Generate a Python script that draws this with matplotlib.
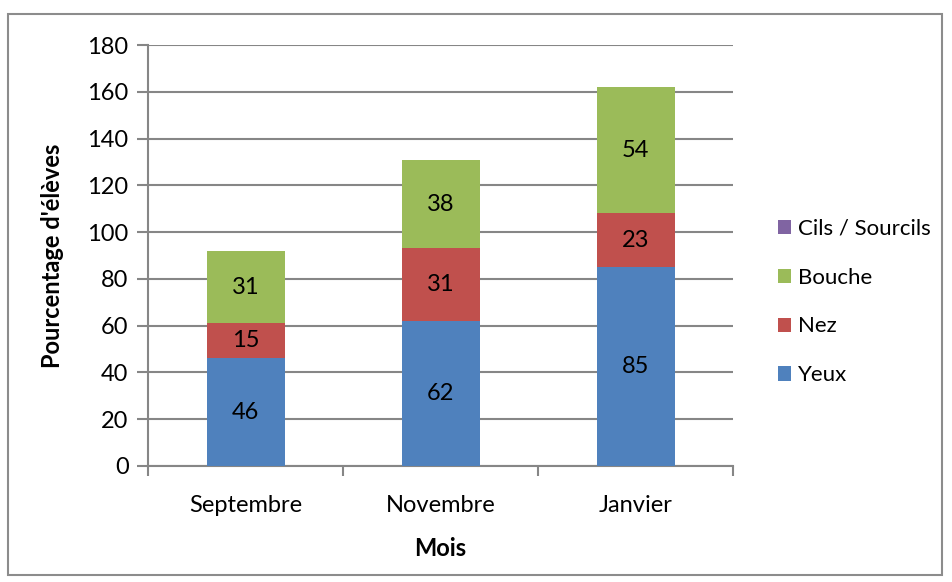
import numpy as np
import matplotlib.pyplot as plt
from matplotlib.patches import Rectangle

plt.rcParams['font.family'] = ['Lato', 'DejaVu Sans']

mois = ["Septembre", "Novembre", "Janvier"]
yeux = [46, 62, 85]
nez = [15, 31, 23]
bouche = [31, 38, 54]
cils = [0, 0, 0]

c_yeux = "#4F81BD"
c_nez = "#C0504D"
c_bouche = "#9BBB59"
c_cils = "#8064A2"
grid_col = "#868686"
fs = 17

fig = plt.figure(figsize=(9.52, 5.82), dpi=100)
# outer frame like the spreadsheet chart area
fig.patches.append(Rectangle((8/952, 7/582), 934/952, 561/582, transform=fig.transFigure,
                             fill=False, edgecolor="#8c8c8c", linewidth=1.5))
ax = fig.add_axes([148/952, 1 - 466/582, (733-148)/952, (466-45)/582])

x = np.arange(len(mois))
w = 0.4
b1 = ax.bar(x, yeux, w, color=c_yeux, label="Yeux", zorder=3)
b2 = ax.bar(x, nez, w, bottom=yeux, color=c_nez, label="Nez", zorder=3)
bot3 = np.array(yeux) + np.array(nez)
b3 = ax.bar(x, bouche, w, bottom=bot3, color=c_bouche, label="Bouche", zorder=3)
b4 = ax.bar(x, cils, w, bottom=bot3 + np.array(bouche), color=c_cils, label="Cils / Sourcils", zorder=3)

for bars, vals, bots in [(b1, yeux, [0, 0, 0]), (b2, nez, yeux), (b3, bouche, bot3)]:
    for rect, v, b in zip(bars, vals, bots):
        ax.text(rect.get_x() + rect.get_width() / 2, b + v / 2, str(v),
                ha="center", va="center", fontsize=fs, zorder=4)

ax.set_xlim(-0.5, 2.5)
ax.set_ylim(0, 180)
ax.set_yticks(range(0, 181, 20))
ax.yaxis.grid(True, color=grid_col, linewidth=1.5, zorder=0)
ax.set_xticks(x)
ax.set_xticklabels(mois)
ax.set_xticks([-0.5, 0.5, 1.5, 2.5], minor=True)
ax.tick_params(axis="x", which="major", length=0, pad=21, labelsize=fs)
ax.tick_params(axis="x", which="minor", length=7, width=1.5, color=grid_col, direction="out")
ax.tick_params(axis="y", length=8, width=1.5, color=grid_col, pad=6, labelsize=fs)

for s in ["top", "right"]:
    ax.spines[s].set_visible(False)
for s in ["left", "bottom"]:
    ax.spines[s].set_color(grid_col)
    ax.spines[s].set_linewidth(1.5)

ax.set_ylabel("Pourcentage d'élèves", fontsize=fs, fontweight="bold", labelpad=17)
ax.set_xlabel("Mois", fontsize=fs, fontweight="bold", labelpad=15)

h, l = ax.get_legend_handles_labels()
fig.legend(h[::-1], l[::-1], loc="center left", bbox_to_anchor=(758/952, 1 - 302/582),
           frameon=False, fontsize=16, handlelength=0.6, handleheight=0.6,
           handletextpad=0.3, labelspacing=1.3)

fig.savefig("out.png", dpi=100)
